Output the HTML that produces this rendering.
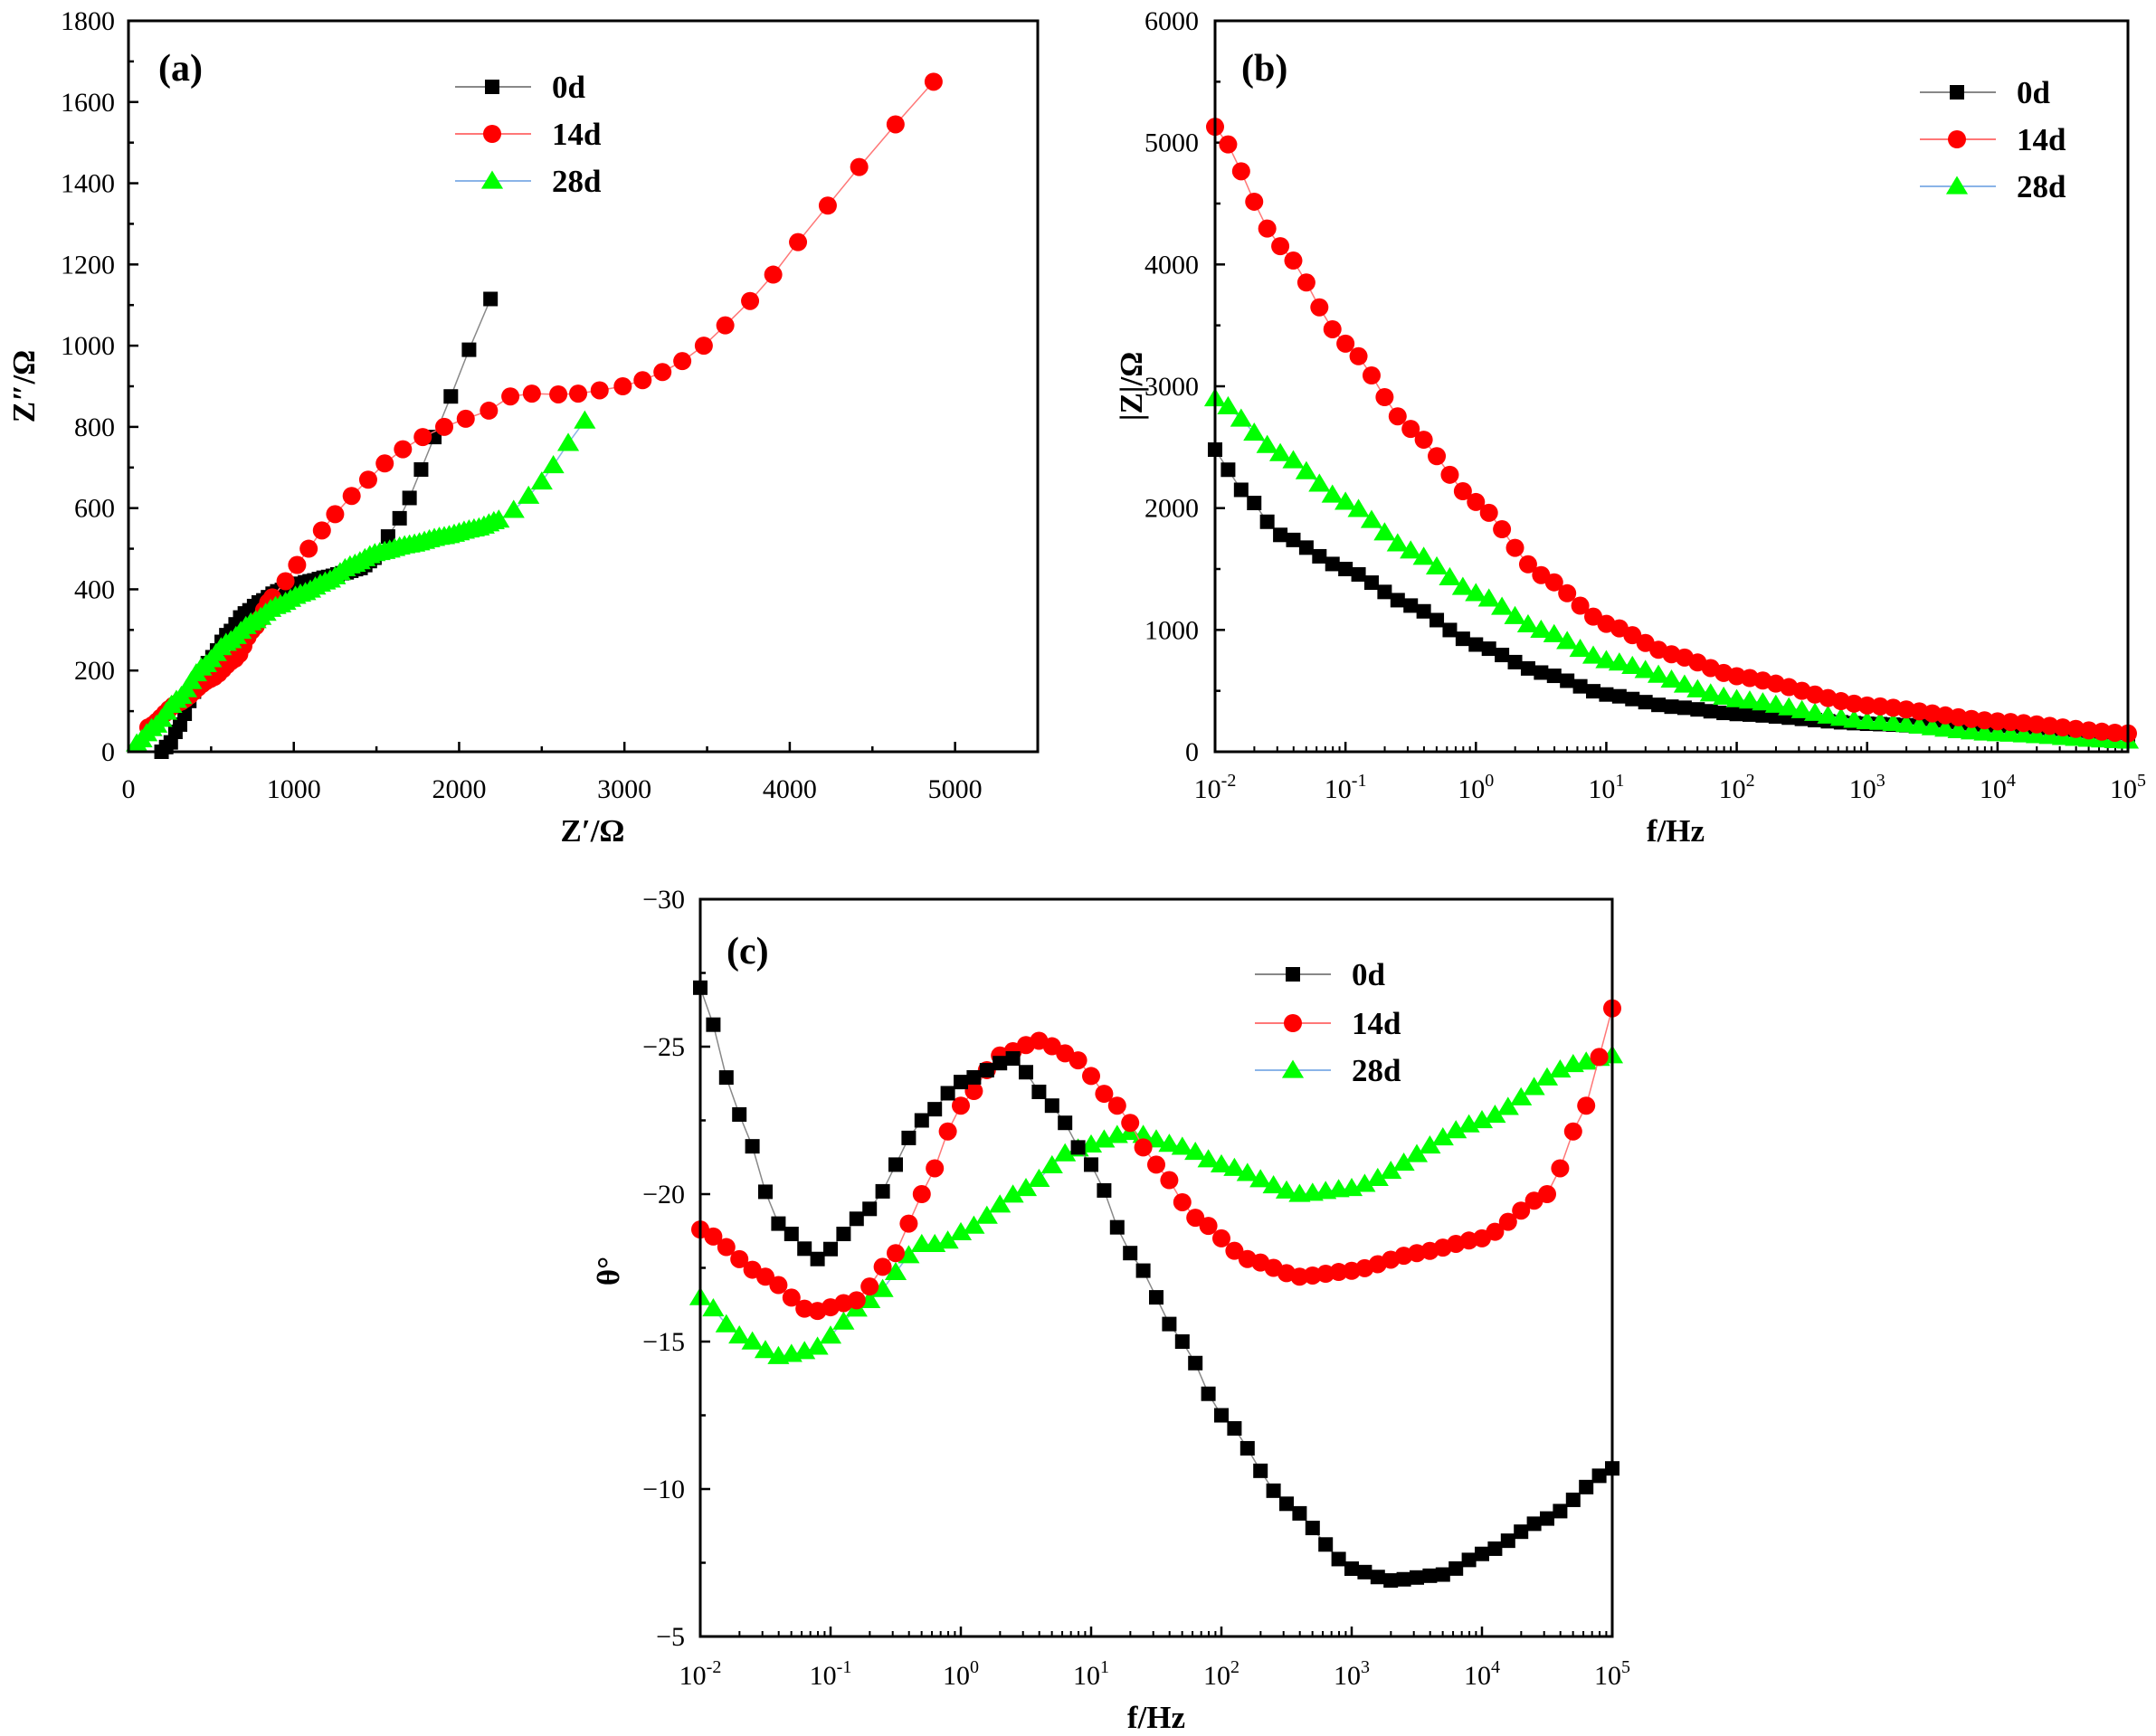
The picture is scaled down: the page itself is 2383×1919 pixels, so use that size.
<!DOCTYPE html>
<html><head><meta charset="utf-8">
<style>
html,body{margin:0;padding:0;background:#fff;}
svg{display:block;}
text{font-family:"Liberation Serif",serif;}
</style></head>
<body>
<svg id="s" xmlns="http://www.w3.org/2000/svg" width="2383" height="1919" viewBox="0 0 2383 1919"></svg>
<script>
const S=document.getElementById('s');
let out='';
function add(x){out+=x;}
function interp(pts,x){
  if(x<=pts[0][0])return pts[0][1];
  for(let i=1;i<pts.length;i++){if(x<=pts[i][0]){const a=pts[i-1],b=pts[i];const t=(x-a[0])/(b[0]-a[0]);
    const u=(1-Math.cos(Math.PI*t))/2; return a[1]+(b[1]-a[1])*(0.5*t+0.5*u);}}
  return pts[pts.length-1][1];
}
function marker(type,x,y){
  if(type==='sq'){const h=8;return `<rect x="${x-h}" y="${y-h}" width="${2*h}" height="${2*h}" fill="#000"/>`;}
  if(type==='ci'){return `<circle cx="${x}" cy="${y}" r="10" fill="#f00"/>`;}
  const r=11.5;return `<polygon points="${x},${y-r} ${x+r*1.05},${y+r*0.75} ${x-r*1.05},${y+r*0.75}" fill="#0f0"/>`;
}
const LC={sq:'#888',ci:'#f77',tr:'#8ab4e8'};
function series(type,pts){
  let d=pts.map((p,i)=>(i?'L':'M')+p[0].toFixed(1)+','+p[1].toFixed(1)).join('');
  add(`<path d="${d}" fill="none" stroke="${LC[type]}" stroke-width="1.5"/>`);
  pts.forEach(p=>add(marker(type,p[0],p[1])));
}
function box(L,T,R,B){add(`<rect x="${L}" y="${T}" width="${R-L}" height="${B-T}" fill="none" stroke="#000" stroke-width="3"/>`);}
function legend(lx,mx,tx,ys){
  const t=['sq','ci','tr'],n=['0d','14d','28d'];
  for(let i=0;i<3;i++){add(`<line x1="${lx}" x2="${lx+84}" y1="${ys[i]}" y2="${ys[i]}" stroke="${LC[t[i]]}" stroke-width="2"/>`);
    add(marker(t[i],mx,ys[i]));
    add(`<text x="${tx}" y="${ys[i]+12}" font-size="35" font-weight="bold">${n[i]}</text>`);}
}
function logX(L,R,B,ly){
  for(let e=-2;e<=5;e++){const x=L+(e+2)/7*(R-L);
    add(`<line x1="${x}" x2="${x}" y1="${B}" y2="${B-11}" stroke="#000" stroke-width="2.5"/>`);
    add(`<text x="${x}" y="${ly}" font-size="30" text-anchor="middle">10<tspan dy="-13" font-size="20">${e}</tspan></text>`);
    if(e<5)for(let k=2;k<10;k++){const xx=L+(e+2+Math.log10(k))/7*(R-L);add(`<line x1="${xx}" x2="${xx}" y1="${B}" y2="${B-6}" stroke="#000" stroke-width="2"/>`);}
  }
}
// ---------- Panel a ----------
{const L=142,R=1147,T=23,B=831;
 const X=v=>L+v/5500*(R-L),Y=v=>B-v/1800*(B-T);
 for(let v=0;v<=5500;v+=500){const x=X(v);add(`<line x1="${x}" x2="${x}" y1="${B}" y2="${B-(v%1000?6:11)}" stroke="#000" stroke-width="2.5"/>`);
   if(v%1000===0)add(`<text x="${x}" y="882" font-size="30" text-anchor="middle">${v}</text>`);}
 for(let v=0;v<=1800;v+=100){const y=Y(v);add(`<line x1="${L}" x2="${L+(v%200?6:11)}" y1="${y}" y2="${y}" stroke="#000" stroke-width="2.5"/>`);
   if(v%200===0)add(`<text x="127" y="${y+10}" font-size="30" text-anchor="end">${v}</text>`);}
 const bk=[[200,0],[250,20],[300,60],[400,150],[500,230],[600,290],[700,340],[800,370],[900,395],[1000,410],[1100,420],[1200,430],[1300,440],[1400,452],[1500,480]];
 let bp=[];for(let v=200;v<=1500;v+=28)bp.push([X(v),Y(interp(bk,v))]);
 [[1570,530],[1640,575],[1700,625],[1770,695],[1850,775],[1950,875],[2060,990],[2190,1115]].forEach(p=>bp.push([X(p[0]),Y(p[1])]));
 const gk=[[50,20],[150,60],[300,130],[450,210],[600,270],[750,320],[900,360],[1050,390],[1200,420],[1350,460],[1500,490],[1700,510],[1900,530],[2100,550],[2250,572]];
 let gp=[];for(let v=50;v<=2250;v+=30)gp.push([X(v),Y(interp(gk,v))]);
 [[2330,595],[2420,630],[2500,665],[2570,705],[2660,760],[2760,815]].forEach(p=>gp.push([X(p[0]),Y(p[1])]));
 const rk=[[120,60],[300,120],[500,180],[650,230],[750,300],[870,380]];
 let rp=[];for(let v=120;v<=870;v+=25)rp.push([X(v),Y(interp(rk,v))]);
 [[950,420],[1020,460],[1090,500],[1170,545],[1250,585],[1350,630],[1450,670],[1550,710],[1660,745],[1780,775],[1910,800],[2040,820],[2180,840],[2310,875],[2440,882],[2600,880],[2720,882],[2850,890],[2990,900],[3110,915],[3230,935],[3350,962],[3480,1000],[3610,1050],[3760,1110],[3900,1175],[4050,1255],[4230,1345],[4420,1440],[4640,1545],[4870,1650]].forEach(p=>rp.push([X(p[0]),Y(p[1])]));
 series('sq',bp);series('ci',rp);series('tr',gp);
 box(L,T,R,B);
 legend(503,544,610,[96,148,200]);
 add(`<text x="175" y="89" font-size="42" font-weight="bold">(a)</text>`);
 add(`<text x="655" y="930" font-size="35" font-weight="bold" text-anchor="middle">Z′/Ω</text>`);
 add(`<text transform="translate(38,427) rotate(-90)" font-size="35" font-weight="bold" text-anchor="middle">Z″/Ω</text>`);
}
// ---------- Panel b ----------
{const L=1343,R=2352,T=23,B=831;
 const X=e=>L+(e+2)/7*(R-L),Y=v=>B-v/6000*(B-T);
 for(let v=0;v<=6000;v+=500){const y=Y(v);add(`<line x1="${L}" x2="${L+(v%1000?6:11)}" y1="${y}" y2="${y}" stroke="#000" stroke-width="2.5"/>`);
   if(v%1000===0)add(`<text x="1325" y="${y+10}" font-size="30" text-anchor="end">${v}</text>`);}
 logX(L,R,B,882);
 const rk=[[-2,5130],[-1.5,4150],[-1,3350],[-0.5,2650],[0,2050],[0.5,1450],[1,1050],[1.5,800],[2,620],[3,380],[4,250],[5,150]];
 const gk=[[-2,2900],[-1.5,2450],[-1,2050],[-0.5,1650],[0,1300],[0.5,1000],[1,750],[2,430],[3,250],[4,150],[5,90]];
 const bk=[[-2,2480],[-1.8,2150],[-1.5,1780],[-1,1500],[-0.5,1200],[0,880],[0.5,650],[1,470],[1.5,370],[2,310],[3,230],[4,180],[5,130]];
 let bp=[],rp=[],gp=[];
 for(let i=0;i<=70;i++){const e=-2+i/10;bp.push([X(e),Y(interp(bk,e))]);gp.push([X(e),Y(interp(gk,e))]);rp.push([X(e),Y(interp(rk,e))]);}
 series('sq',bp);series('tr',gp);series('ci',rp);
 box(L,T,R,B);
 legend(2122,2163,2229,[102,154,206]);
 add(`<text x="1372" y="89" font-size="42" font-weight="bold">(b)</text>`);
 add(`<text x="1852" y="930" font-size="35" font-weight="bold" text-anchor="middle">f/Hz</text>`);
 add(`<text transform="translate(1262,427) rotate(-90)" font-size="35" font-weight="bold" text-anchor="middle">|Z|/Ω</text>`);
}
// ---------- Panel c ----------
{const L=774,R=1782,T=994,B=1809;
 const X=e=>L+(e+2)/7*(R-L),Y=v=>T+(v+30)/25*(B-T);
 for(let v=-30;v<=-5;v+=2.5){const y=Y(v);const maj=(v%5===0);add(`<line x1="${L}" x2="${L+(maj?11:6)}" y1="${y}" y2="${y}" stroke="#000" stroke-width="2.5"/>`);
   if(maj)add(`<text x="757" y="${y+10}" font-size="30" text-anchor="end">−${-v}</text>`);}
 logX(L,R,B,1862);
 const bk=[[-2,-27],[-1.7,-22.7],[-1.4,-19],[-1.1,-17.8],[-0.7,-19.5],[-0.3,-22.5],[0,-23.8],[0.4,-24.6],[0.7,-23],[1,-21],[1.3,-18],[1.7,-15],[2,-12.5],[2.5,-9.5],[3,-7.3],[3.3,-6.9],[3.7,-7.1],[4,-7.8],[4.5,-9],[5,-10.7]];
 const rk=[[-2,-18.8],[-1.5,-17.2],[-1.15,-16.0],[-0.8,-16.4],[-0.5,-18],[-0.3,-20],[0,-23],[0.3,-24.7],[0.6,-25.2],[0.85,-24.7],[1.2,-23],[1.5,-21],[1.8,-19.2],[2.2,-17.8],[2.6,-17.2],[3,-17.4],[3.5,-18.0],[4,-18.5],[4.5,-20],[4.8,-23],[5,-26.3]];
 const gk=[[-2,-16.5],[-1.7,-15.2],[-1.4,-14.5],[-1.15,-14.7],[-0.7,-16.4],[-0.3,-18.3],[-0.15,-18.3],[0,-18.7],[0.5,-20.2],[0.85,-21.5],[1.3,-22.1],[1.7,-21.6],[2,-21],[2.6,-20],[3,-20.2],[4,-22.5],[4.7,-24.4],[5,-24.7]];
 let bp=[],rp=[],gp=[];
 for(let i=0;i<=70;i++){const e=-2+i/10;gp.push([X(e),Y(interp(gk,e))]);rp.push([X(e),Y(interp(rk,e))]);bp.push([X(e),Y(interp(bk,e))]);}
 series('tr',gp);series('ci',rp);series('sq',bp);
 box(L,T,R,B);
 legend(1387,1429,1494,[1077,1131,1183]);
 add(`<text x="803" y="1065" font-size="42" font-weight="bold">(c)</text>`);
 add(`<text x="1278" y="1910" font-size="35" font-weight="bold" text-anchor="middle">f/Hz</text>`);
 add(`<text transform="translate(684,1405) rotate(-90)" font-size="35" font-weight="bold" text-anchor="middle">θ°</text>`);
}
S.innerHTML=out;
</script>
</body></html>
